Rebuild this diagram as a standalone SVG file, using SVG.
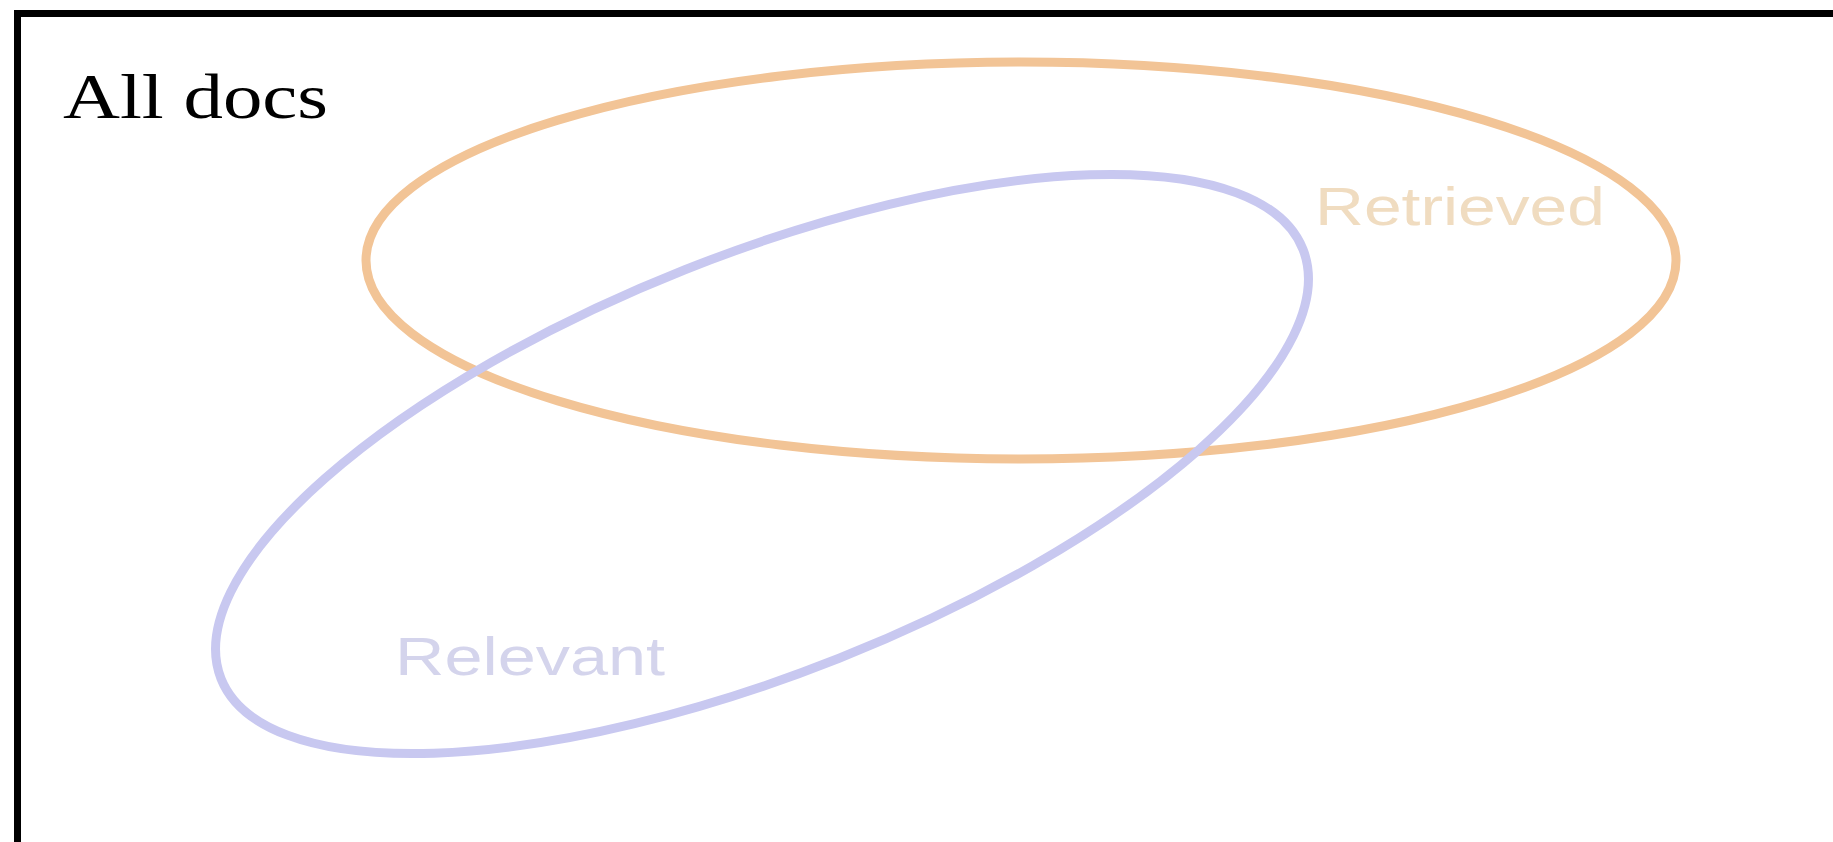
<svg xmlns="http://www.w3.org/2000/svg" width="1833" height="842" viewBox="0 0 1833 842">
<style>
.set{fill:none;stroke-width:9}
.lbl{font-family:"Liberation Sans",Arial,sans-serif;font-size:53px}
</style>
<rect x="0" y="0" width="1833" height="842" fill="#ffffff"/>
<g id="all-docs">
<path d="M17.5 842 V13.5 H1833" fill="none" stroke="#000" stroke-width="7"/>
<text x="63" y="118" font-family="'Liberation Serif','Times New Roman',serif" font-size="64" fill="#000" textLength="265" lengthAdjust="spacingAndGlyphs">All docs</text>
</g>
<g id="retrieved">
<ellipse class="set" cx="1021" cy="260.5" rx="655" ry="198.5" stroke="#f2c496"/>
<text class="lbl" x="1315" y="225" fill="#f0dcc0" textLength="290" lengthAdjust="spacingAndGlyphs">Retrieved</text>
</g>
<g id="relevant">
<ellipse class="set" cx="762" cy="464" rx="582" ry="209" transform="rotate(-21.65 762 464)" stroke="#c8c8f0"/>
<text class="lbl" x="395" y="675" fill="#d4d4ec" textLength="270" lengthAdjust="spacingAndGlyphs">Relevant</text>
</g>
<g id="connectors"></g>
</svg>
